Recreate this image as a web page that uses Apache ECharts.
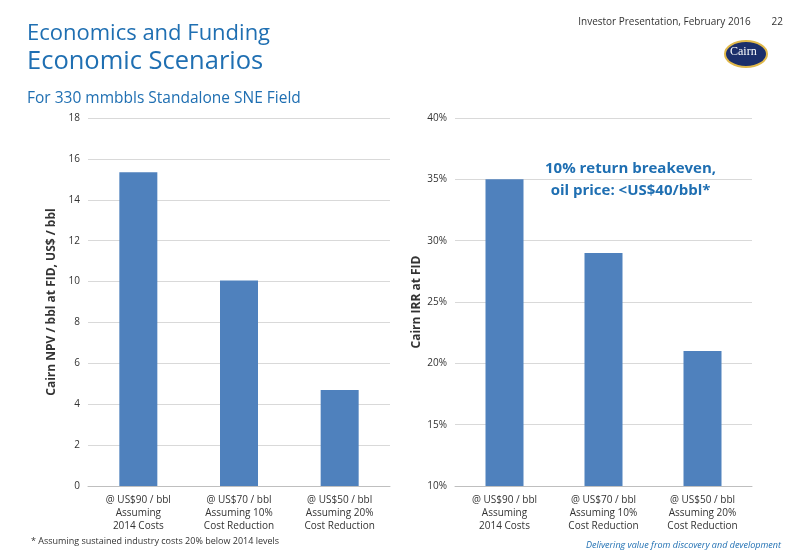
<!DOCTYPE html>
<html>
<head>
<meta charset="utf-8" />
<title>Economic Scenarios</title>
<style>html,body{margin:0;padding:0;background:#fff;}</style>
</head>
<body>
<div id="divChart" style="width:800px;height:554px;"></div>
<script src="https://cdn.jsdelivr.net/npm/echarts@6/dist/echarts.min.js"></script>
<script>
var categories = ['@ US$90 / bbl\nAssuming\n2014 Costs', '@ US$70 / bbl\nAssuming 10%\nCost Reduction', '@ US$50 / bbl\nAssuming 20%\nCost Reduction'];
var npvValues = [15.35, 10.05, 4.7];
var irrValues = [35, 29, 21];

var font = 'Open Sans';
var myChart = echarts.init(document.getElementById('divChart'));

function axisX(i) {
    return {
        type: 'category', gridIndex: i, data: categories,
        axisTick: { show: false },
        axisLine: { lineStyle: { color: '#bfbfbf' } },
        axisLabel: { color: '#333', fontSize: 10, fontFamily: font, lineHeight: 13, interval: 0 }
    };
}
var gridLine = { lineStyle: { color: '#d9d9d9' } };

var option = {
    color: ['#4f81bd'],
    textStyle: { fontFamily: font },
    title: [
        { text: 'Economics and Funding', left: 22, top: 18, textStyle: { color: '#1f6fb2', fontSize: 22, fontWeight: 'normal' } },
        { text: 'Economic Scenarios', left: 22, top: 44, textStyle: { color: '#1f6fb2', fontSize: 25.5, fontWeight: 'normal' } },
        { text: 'For 330 mmbbls Standalone SNE Field', left: 22, top: 86, textStyle: { color: '#1f6fb2', fontSize: 15.5, fontWeight: 'normal' } },
        { text: 'Investor Presentation, February 2016        22', right: 12, top: 12, textStyle: { color: '#333', fontSize: 10, fontWeight: 'normal' } },
        { text: '* Assuming sustained industry costs 20% below 2014 levels', left: 26, top: 532, textStyle: { color: '#333', fontSize: 9, fontWeight: 'normal' } },
        { text: 'Delivering value from discovery and development', right: 14, top: 536, textStyle: { color: '#1f6fb2', fontSize: 9, fontStyle: 'italic', fontWeight: 'normal' } }
    ],
    graphic: [
        { type: 'ellipse', shape: { cx: 746, cy: 54, rx: 21, ry: 13 }, style: { fill: '#1c2f6b', stroke: '#e0b84a', lineWidth: 2 } },
        { type: 'text', left: 730, top: 46, style: { text: 'Cairn', fill: '#fff', font: '12px Liberation Serif' } },
        { type: 'text', left: 545, top: 158, style: { text: '10% return breakeven,\noil price: <US$40/bbl*', fill: '#1f6fb2', font: 'bold 15px Open Sans', lineHeight: 22, textAlign: 'center' } }
    ],
    grid: [
        { left: 88, top: 118, width: 302, height: 368 },
        { left: 455, top: 118, width: 297, height: 368 }
    ],
    xAxis: [axisX(0), axisX(1)],
    yAxis: [
        {
            type: 'value', gridIndex: 0, min: 0, max: 18, interval: 2,
            name: 'Cairn NPV / bbl at FID, US$ / bbl', nameLocation: 'middle', nameGap: 30,
            nameTextStyle: { color: '#333', fontSize: 12, fontWeight: 'bold' },
            axisLabel: { color: '#333', fontSize: 10 }, splitLine: gridLine
        },
        {
            type: 'value', gridIndex: 1, min: 10, max: 40, interval: 5,
            name: 'Cairn IRR at FID', nameLocation: 'middle', nameGap: 32,
            nameTextStyle: { color: '#333', fontSize: 12, fontWeight: 'bold' },
            axisLabel: { color: '#333', fontSize: 10, formatter: '{value}%' }, splitLine: gridLine
        }
    ],
    series: [
        { type: 'bar', xAxisIndex: 0, yAxisIndex: 0, barWidth: 38, data: npvValues },
        { type: 'bar', xAxisIndex: 1, yAxisIndex: 1, barWidth: 38, data: irrValues }
    ]
};
myChart.setOption(option);
</script>
</body>
</html>
